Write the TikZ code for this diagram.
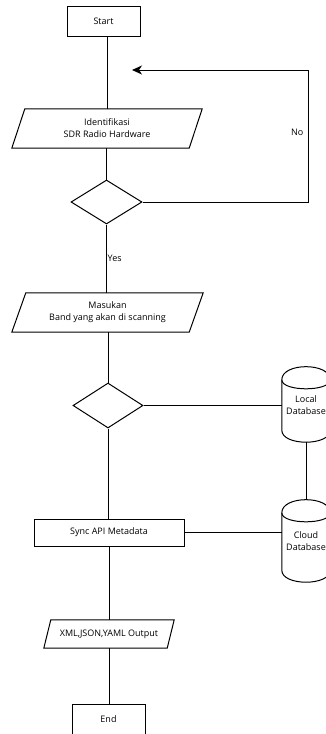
\documentclass[tikz,border=0pt]{standalone}
\usepackage{fontspec}
\setmainfont{Open Sans}
\usetikzlibrary{shapes.geometric,arrows.meta,calc}
\tikzset{
  base/.style={line width=1pt, draw=black},
  boxnode/.style={base, rectangle, inner sep=0pt, align=center, font=\fontsize{9}{12}\selectfont},
  ionode/.style={rectangle, inner sep=0pt, align=center, font=\fontsize{9}{12}\selectfont},
  decnode/.style={base, diamond, inner sep=0pt},
  dbnode/.style={rectangle, inner sep=0pt, minimum width=48pt, align=center, font=\fontsize{9}{12}\selectfont},
  conn/.style={line width=1pt, draw=black},
  lbl/.style={inner sep=0.5pt, font=\fontsize{9}{11}\selectfont},
}
\newcommand\ioshape[2]{\draw[base] ($(#1.south west)+(-#2,0)$) -- ($(#1.north west)+(#2,0)$) -- ($(#1.north east)+(#2,0)$) -- ($(#1.south east)+(-#2,0)$) -- cycle;}
\newcommand\dbshape[1]{%
  \draw[base] (#1.north west) .. controls ($(#1.north west)+(0,-17.5)$) and ($(#1.north east)+(0,-17.5)$) .. (#1.north east) -- (#1.south east) .. controls ($(#1.south east)+(0,16)$) and ($(#1.south west)+(0,16)$) .. (#1.south west) -- cycle;
  \draw[base] (#1.north west) .. controls ($(#1.north west)+(0,12)$) and ($(#1.north east)+(0,12)$) .. (#1.north east);}
\begin{document}
\begin{tikzpicture}[x=1pt,y=-1pt]
\useasboundingbox (0,0) rectangle (325,734);
% nodes
\node[boxnode, minimum width=73pt, minimum height=30pt] (start) at (103.5,21) {Start};
\node[ionode, minimum width=177pt, minimum height=39pt] (p1) at (107,128.5) {Identifikasi\\SDR Radio Hardware};
\ioshape{p1}{6.5}
\node[decnode, minimum width=71pt, minimum height=44pt] (d1) at (106.5,202) {};
\node[ionode, minimum width=177pt, minimum height=39pt] (p2) at (107.5,312.5) {Masukan\\Band yang akan di scanning};
\ioshape{p2}{7}
\node[decnode, minimum width=70pt, minimum height=45pt] (d2) at (108,405.5) {};
\node[dbnode, minimum height=50pt] (local) at (306,405) {Local\\Database};
\dbshape{local}
\node[dbnode, minimum height=57pt] (cloud) at (306,541.5) {Cloud\\Database};
\dbshape{cloud}
\node[boxnode, minimum width=150pt, minimum height=27pt] (sync) at (109,532.5) {Sync API Metadata};
\node[ionode, minimum width=123pt, minimum height=28pt] (p3) at (109,634) {XML,JSON,YAML Output};
\ioshape{p3}{3.5}
\node[boxnode, minimum width=73pt, minimum height=31pt] (end) at (108.5,719.5) {End};
% loop coordinates
\coordinate (nr) at (308,70);
\coordinate (ntip) at (132,70);
% connectors
\draw[conn] (p1.north |- start.south) -- (p1.north);
\draw[conn] (d1.north |- p1.south) -- (d1.north);
\draw[conn] (d1.south) -- (d1.south |- p2.north);
\draw[conn] (d2.north |- p2.south) -- (d2.north);
\draw[conn] (d2.south) -- (d2.south |- sync.north);
\draw[conn] (sync.south) -- (sync.south |- p3.north);
\draw[conn] (p3.south) -- (p3.south |- end.north);
\draw[conn] (d2.east) -- (d2.east -| local.west);
\draw[conn] (sync.east) -- (sync.east -| cloud.west);
\draw[conn] ($(local.south)+(0,12)$) -- ($(cloud.north)+(0,-13)$);
\draw[conn, -{Stealth[length=10pt,width=9pt,inset=3pt]}] (d1.east) -- (d1.east -| nr) -- (nr) -- (ntip);
% labels
\node[lbl, anchor=east] (no) at (304,132) {No};
\node[lbl, anchor=west] (yes) at (107,258) {Yes};
\end{tikzpicture}
\end{document}
